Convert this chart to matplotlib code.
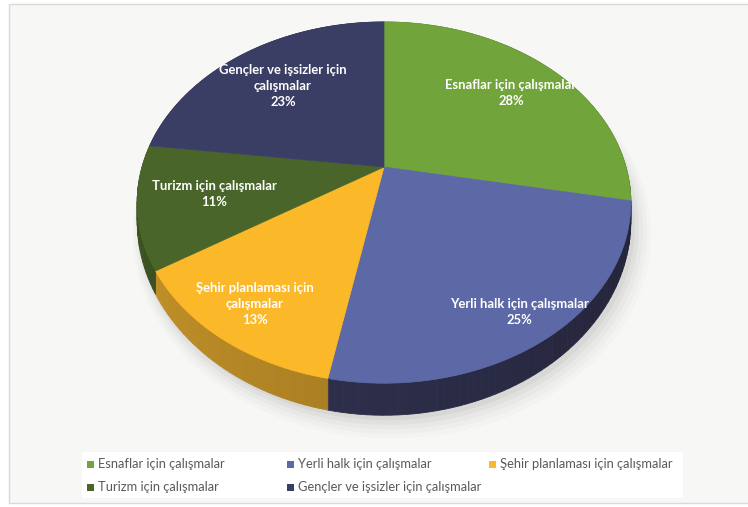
import numpy as np
import matplotlib
matplotlib.use("Agg")
import matplotlib.pyplot as plt
from matplotlib.patches import Polygon, Rectangle
import matplotlib.colors as mcolors

# ---------------- data ----------------
categories = ["Esnaflar için çalışmalar", "Yerli halk için çalışmalar",
              "Şehir planlaması için çalışmalar", "Turizm için çalışmalar",
              "Gençler ve işsizler için çalışmalar"]
values = [28, 25, 13, 11, 23]
slice_labels = ["Esnaflar için çalışmalar\n28%", "Yerli halk için çalışmalar\n25%",
                "Şehir planlaması için\nçalışmalar\n13%", "Turizm için çalışmalar\n11%",
                "Gençler ve işsizler için\nçalışmalar\n23%"]
colors = ["#72a43c", "#5c69a6", "#fbb829", "#4a6529", "#3b3e64"]
side_colors = ["#4f7229", "#2c2d48", "#a57b22", "#33461c", "#292b46"]

# ---------------- layout ----------------
W, H = 748, 507
CX, CY = 384, 167          # apex of the slices (pixels)
RX, RY = 242, 173.6        # disc radii
K = 0.197                  # perspective strength
DEPTH = 16.6               # thickness of the disc
label_pos = [(511, 93), (519, 312), (255, 304), (214, 194), (283, 86)]

fig = plt.figure(figsize=(W / 100, H / 100), dpi=100)
fig.patch.set_facecolor("white")
ax = fig.add_axes([0, 0, 1, 1])
ax.set_xlim(0, W)
ax.set_ylim(H, 0)
ax.axis("off")

# chart area frame
ax.add_patch(Rectangle((9, 4), W - 9 + 2, 499, facecolor="#f7f7f5",
                       edgecolor="#d9d9d9", lw=1.0, zorder=0))


def proj(u, v, z=0.0):
    s = 1.0 / (1.0 + K * v)
    return CX + RX * u * s, CY - RY * v * s + DEPTH * z * s ** 3


# angles (clockwise from 12 o'clock) derived from data
fr = np.array(values, dtype=float) / np.sum(values)
edges = np.concatenate([[0.0], np.cumsum(fr)]) * 2 * np.pi

# soft shadow
tt = np.linspace(0, 2 * np.pi, 200)
for i, a in enumerate([0.035, 0.03, 0.025, 0.02, 0.015]):
    sc = 1.0 + 0.012 * i
    xs, ys = proj(np.sin(tt) * sc, np.cos(tt) * sc, 1.0)
    ax.add_patch(Polygon(np.column_stack([xs + 4 + i, ys + 5 + i]), closed=True,
                         facecolor="black", edgecolor="none", alpha=a, zorder=1))

# side walls
for i in range(len(values)):
    a0, a1 = edges[i], edges[i + 1]
    n = max(4, int((a1 - a0) / (2 * np.pi) * 240))
    ang = np.linspace(a0, a1, n + 1)
    base = np.array(mcolors.to_rgb(side_colors[i]))
    for j in range(n):
        t0, t1 = ang[j], ang[j + 1]
        u0, v0 = np.sin(t0), np.cos(t0)
        u1, v1 = np.sin(t1), np.cos(t1)
        p = [proj(u0, v0, 0), proj(u1, v1, 0), proj(u1, v1, 1), proj(u0, v0, 1)]
        um = 0.5 * (u0 + u1)
        shade = 1.0 - 0.18 * um
        c = np.clip(base * shade, 0, 1)
        ax.add_patch(Polygon(p, closed=True, facecolor=c, edgecolor=c, lw=0.6, zorder=2))

# top faces
for i in range(len(values)):
    a0, a1 = edges[i], edges[i + 1]
    ang = np.linspace(a0, a1, 120)
    xs, ys = proj(np.sin(ang), np.cos(ang), 0)
    pts = np.column_stack([np.concatenate([[CX], xs]), np.concatenate([[CY], ys])])
    ax.add_patch(Polygon(pts, closed=True, facecolor=colors[i], edgecolor=colors[i],
                         lw=0.5, zorder=3))

# slice labels
for (x, y), t in zip(label_pos, slice_labels):
    ax.text(x, y, t, ha="center", va="center", color="white", fontsize=9.4,
            fontweight="bold", family="Lato", linespacing=1.35, zorder=5)

# legend box
ax.add_patch(Rectangle((82, 452), 601, 46, facecolor="white", edgecolor="none", zorder=1))
leg_pos = [(87, 464), (287, 464), (489, 464), (87, 487), (287, 487)]
for (x, y), c, t in zip(leg_pos, colors, categories):
    ax.add_patch(Rectangle((x, y - 3.5), 7.5, 7, facecolor=c, edgecolor="none", zorder=5))
    ax.text(x + 11, y, t, ha="left", va="center", color="#595959", fontsize=9.3,
            family="Lato", zorder=5)

fig.savefig("out.png", dpi=100, facecolor=fig.get_facecolor())
